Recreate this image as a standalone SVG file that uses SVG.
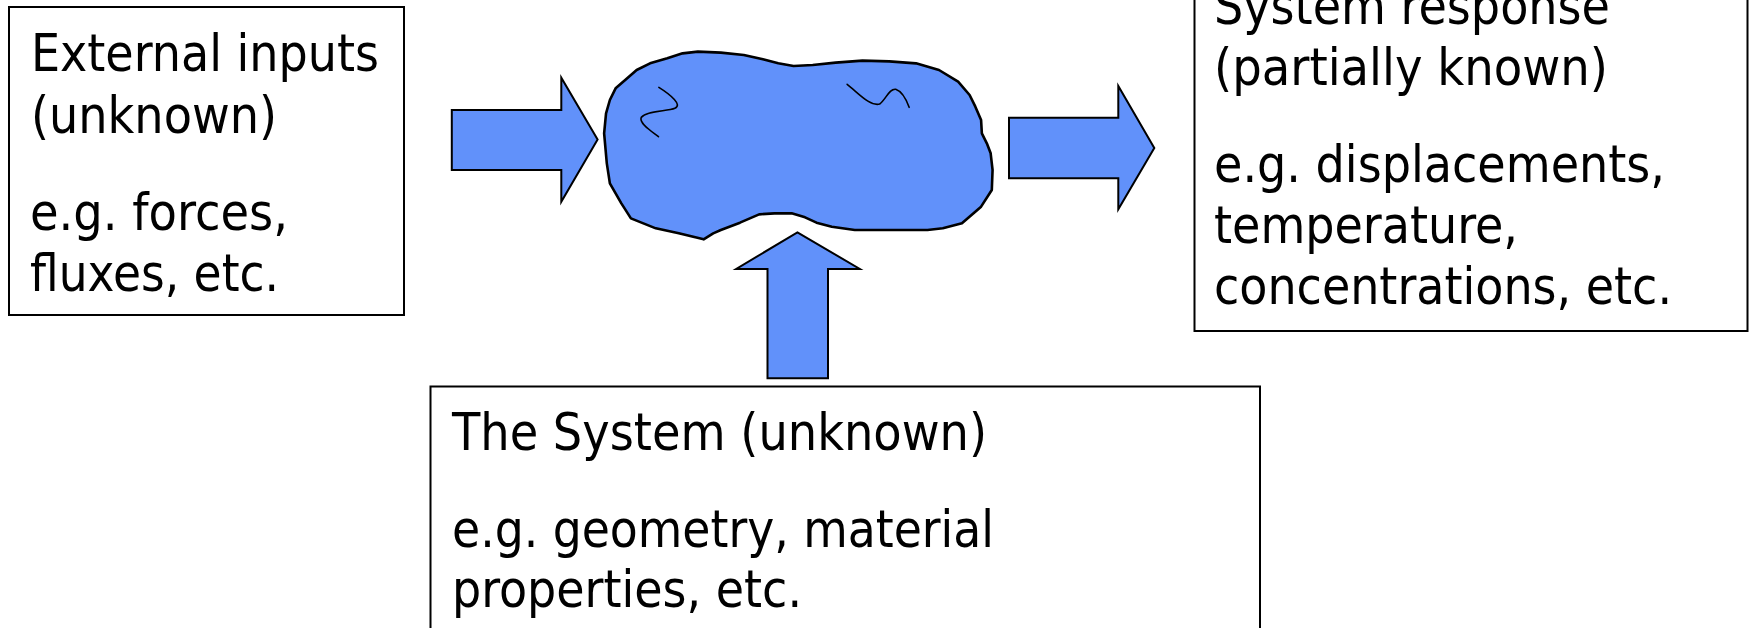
<svg xmlns="http://www.w3.org/2000/svg" width="1752" height="628" viewBox="0 0 1752 628">
  <style>
    .box { fill: #ffffff; stroke: #000000; stroke-width: 2; }
    .arrow { fill: #6191FA; stroke: #000000; stroke-width: 2; stroke-linejoin: miter; }
    .blob { fill: #6191FA; stroke: #000000; stroke-width: 2.6; stroke-linejoin: round; }
    .squig { fill: none; stroke: #000000; stroke-width: 1.6; stroke-linecap: round; }
    .t { font-family: "DejaVu Sans Condensed", "DejaVu Sans", sans-serif; font-stretch: condensed; font-size: 51px; fill: #000000; }
  </style>
  <rect width="1752" height="628" fill="#ffffff"/>

  <g id="external-inputs">
    <rect class="box" x="9" y="7" width="395" height="308"/>
    <text class="t" x="31" y="71" textLength="348" lengthAdjust="spacingAndGlyphs">External inputs</text>
    <text class="t" x="31" y="133" textLength="246" lengthAdjust="spacingAndGlyphs">(unknown)</text>
    <text class="t" x="30" y="230" textLength="258" lengthAdjust="spacingAndGlyphs">e.g. forces,</text>
    <text class="t" x="30" y="291" textLength="249" lengthAdjust="spacingAndGlyphs">fluxes, etc.</text>
  </g>

  <g id="system-response">
    <rect class="box" x="1194.5" y="-10" width="553" height="341"/>
    <text class="t" x="1214" y="24" textLength="396" lengthAdjust="spacingAndGlyphs">System response</text>
    <text class="t" x="1214" y="85" textLength="394" lengthAdjust="spacingAndGlyphs">(partially known)</text>
    <text class="t" x="1214" y="182" textLength="451" lengthAdjust="spacingAndGlyphs">e.g. displacements,</text>
    <text class="t" x="1214" y="243" textLength="304" lengthAdjust="spacingAndGlyphs">temperature,</text>
    <text class="t" x="1214" y="304" textLength="458" lengthAdjust="spacingAndGlyphs">concentrations, etc.</text>
  </g>

  <g id="the-system-box">
    <rect class="box" x="430.5" y="386.5" width="829.5" height="260"/>
    <text class="t" x="452" y="450" textLength="535" lengthAdjust="spacingAndGlyphs">The System (unknown)</text>
    <text class="t" x="452" y="547" textLength="542" lengthAdjust="spacingAndGlyphs">e.g. geometry, material</text>
    <text class="t" x="452" y="607" textLength="350" lengthAdjust="spacingAndGlyphs">properties, etc.</text>
  </g>

  <g id="system-blob" transform="translate(430,30) scale(0.3827,0.33333)">
    <path class="blob" vector-effect="non-scaling-stroke" d="M455,310 L460,250 L470,210 L485,175 L510,150 L540,120 L575,100 L620,85 L660,70 L700,65 L760,68 L820,75 L870,88 L910,100 L950,108 L1000,105 L1060,98 L1130,92 L1200,94 L1270,100 L1330,120 L1380,155 L1410,195 L1425,230 L1440,270 L1442,310 L1455,340 L1465,370 L1470,420 L1468,480 L1440,530 L1390,580 L1340,595 L1300,600 L1200,600 L1110,600 L1050,590 L1010,578 L980,562 L945,550 L900,550 L860,553 L810,578 L760,600 L740,610 L715,628 L650,610 L590,595 L525,565 L500,520 L470,460 L462,400 Z"/>
    <path class="squig" vector-effect="non-scaling-stroke" d="M598,172 C630,195 660,225 640,235 C620,245 570,240 552,262 C545,280 580,305 597,320"/>
    <path class="squig" vector-effect="non-scaling-stroke" d="M1090,163 C1120,190 1150,230 1175,222 C1190,210 1200,175 1217,178 C1235,185 1245,210 1252,232"/>
  </g>

  <g id="connectors">
    <polygon class="arrow" points="451.8,110 561.3,110 561.3,77.7 597.6,139.5 561.3,201.7 561.3,170 451.8,170"/>
    <polygon class="arrow" points="1009,117.7 1118.3,117.7 1118.3,86 1154.3,148 1118.3,209.3 1118.3,178.3 1009,178.3"/>
    <polygon class="arrow" points="797.4,232.3 859.8,269 828,269 828,378.3 767.5,378.3 767.5,269 736.2,269"/>
  </g>
</svg>
